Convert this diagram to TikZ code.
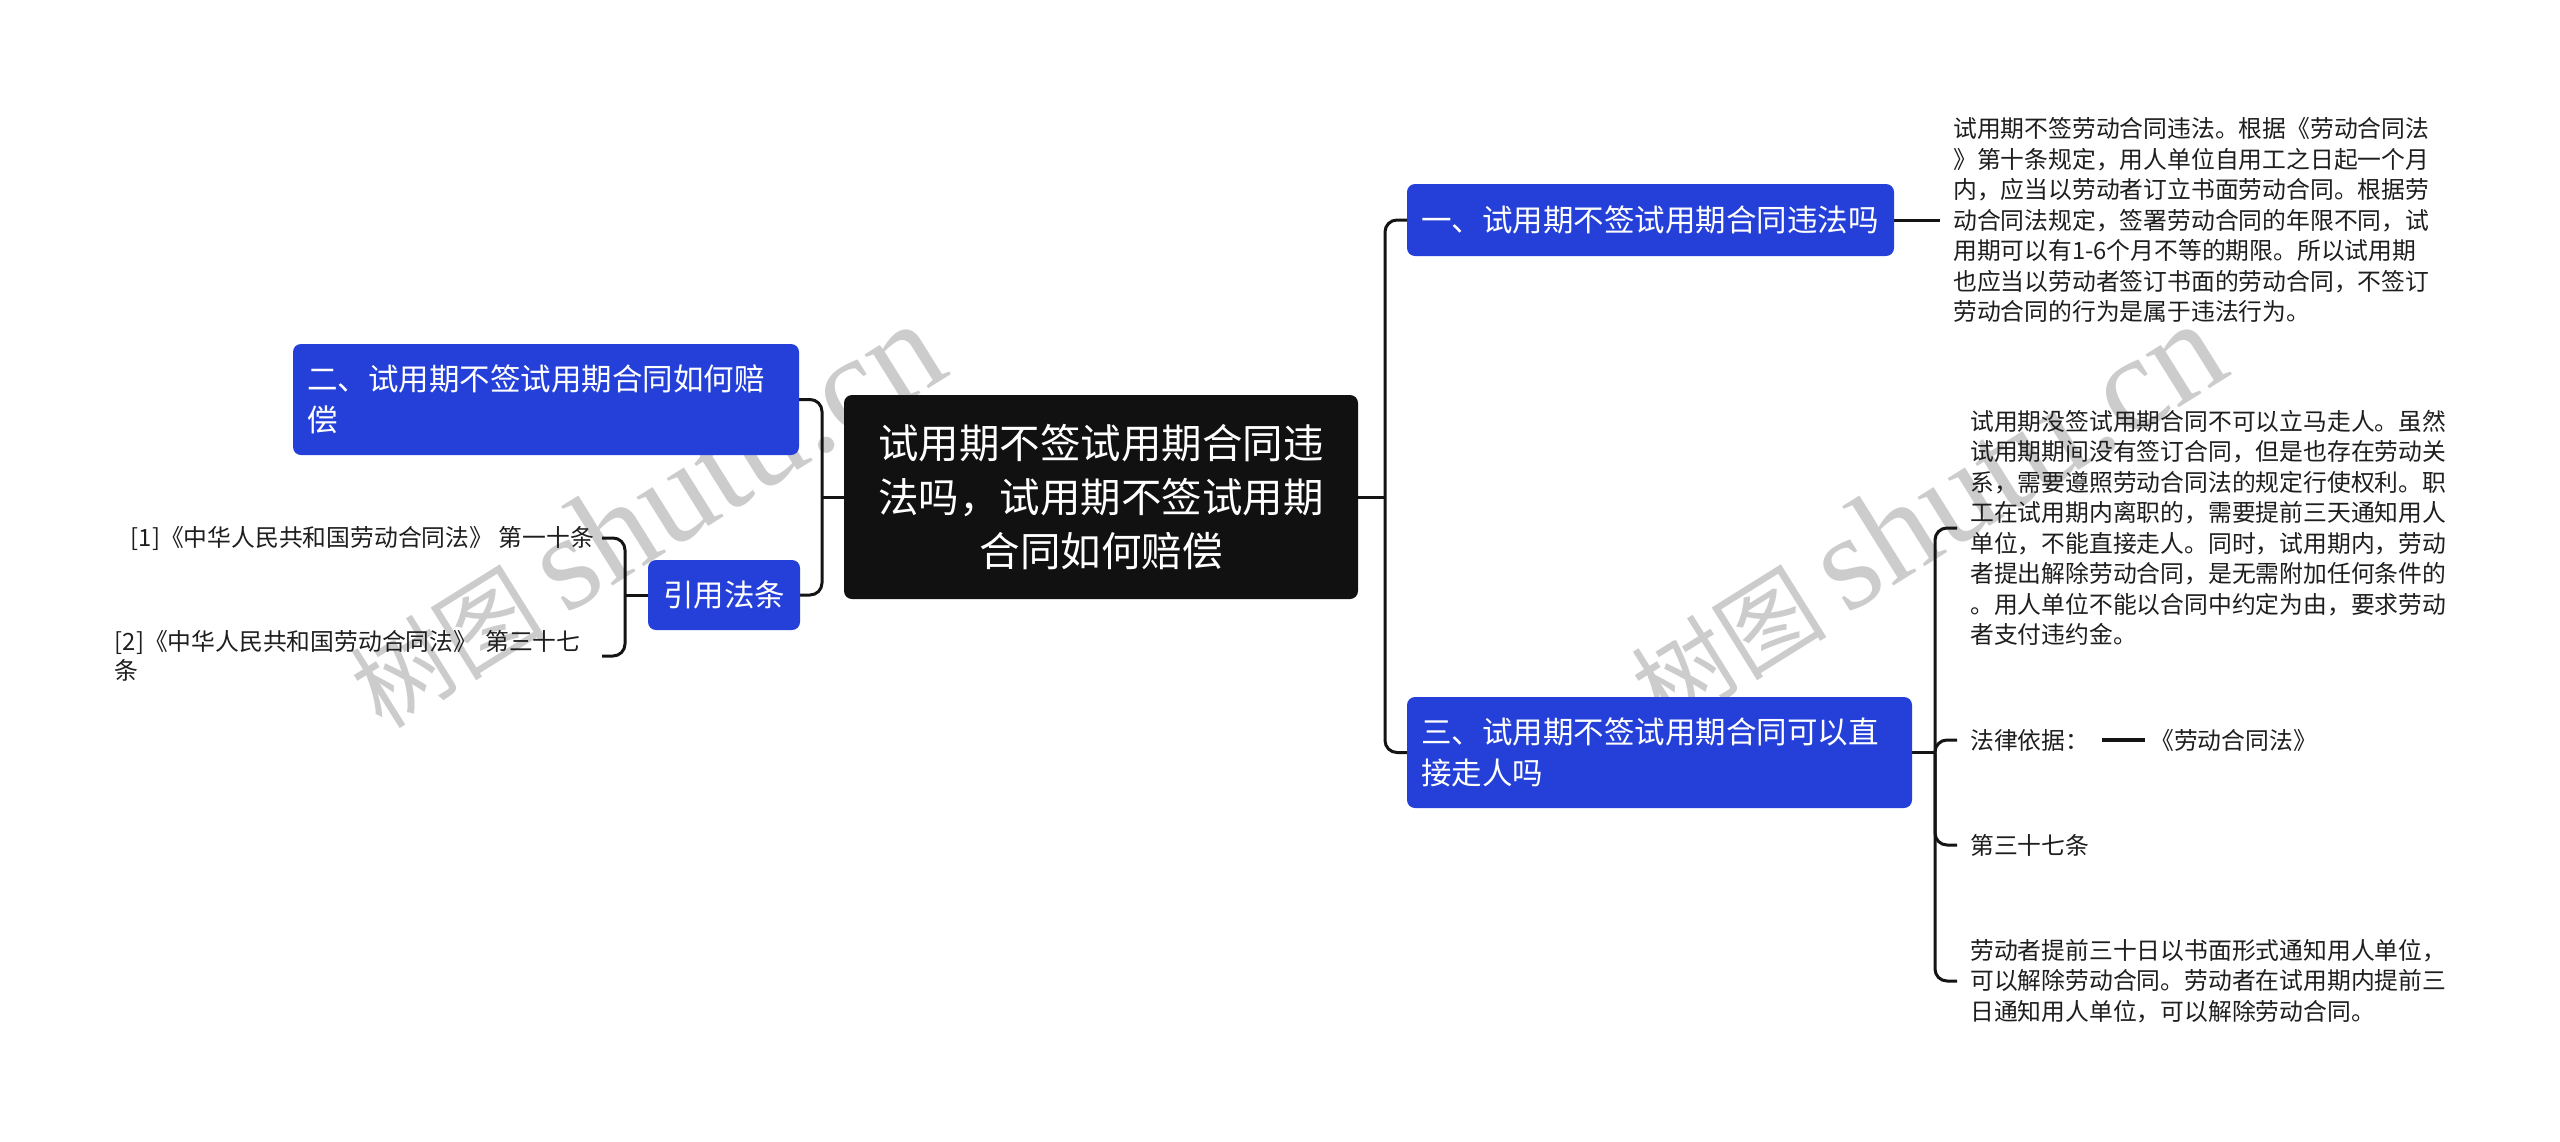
\documentclass[tikz,border=0pt]{standalone}
\usepackage{fontspec}
\setmainfont{Noto Sans CJK SC}
\newfontfamily\wmlatin{Liberation Serif}
\usetikzlibrary{calc}
\pgfdeclarelayer{wm}
\pgfdeclarelayer{bg}
\pgfsetlayers{wm,bg,main}
\definecolor{nodeblue}{RGB}{36,64,216}
\definecolor{rootblack}{RGB}{17,17,17}
\definecolor{linecol}{RGB}{20,20,20}
\definecolor{wmgray}{RGB}{204,204,204}
\definecolor{txtcol}{RGB}{30,30,30}
\tikzset{
  conn/.style={draw=linecol, line width=3pt},
  branch/.style={conn, rounded corners=12pt},
  bluebox/.style={fill=nodeblue, rounded corners=8pt, text=white, inner sep=0pt, font=\fontsize{30.5}{41}\selectfont, align=left},
  rootbox/.style={fill=rootblack, rounded corners=8pt, text=white, inner sep=0pt, font=\fontsize{40.5}{54}\selectfont, align=center},
  plain/.style={inner xsep=13pt, inner ysep=3pt, font=\fontsize{23.8}{30.5}\selectfont, align=left, text=txtcol},
  cite/.style={inner xsep=8pt, inner ysep=3pt, font=\fontsize{23.8}{29}\selectfont, align=left, text=txtcol},
  wmark/.style={rotate=32, text=wmgray, inner sep=0pt},
}
\begin{document}
\begin{tikzpicture}[x=1pt,y=-1pt]
\useasboundingbox (0,0) rectangle (2560,1141);

% background and watermarks
\begin{pgfonlayer}{wm}
\fill[white] (0,0) rectangle (2560,1141);
\node[wmark] (wm1) at (645,515) {\fontsize{98}{98}\selectfont 树图\hspace{20pt}{\wmlatin\fontsize{136}{136}\selectfont shutu.cn}};
\node[wmark] (wm2) at (1926,515) {\fontsize{98}{98}\selectfont 树图\hspace{20pt}{\wmlatin\fontsize{136}{136}\selectfont shutu.cn}};
\end{pgfonlayer}

% nodes
\node[rootbox, minimum width=514pt, minimum height=204pt, text width=470pt] (root) at (1101,497) {试用期不签试用期合同违\\法吗，试用期不签试用期\\合同如何赔偿};

\node[bluebox, minimum width=487pt, minimum height=72pt, text width=459pt] (n1) at (1650.5,220) {一、试用期不签试用期合同违法吗};
\node[bluebox, minimum width=505pt, minimum height=111pt, text width=477pt] (n3) at (1659.5,752.5) {三、试用期不签试用期合同可以直\\接走人吗};
\node[bluebox, minimum width=506pt, minimum height=111pt, text width=478pt] (n2) at (546,399.5) {二、试用期不签试用期合同如何赔\\偿};
\node[bluebox, minimum width=152pt, minimum height=70pt, align=center] (ref) at (724,595) {引用法条};

\node[plain, anchor=west, text width=480pt] (t1) at (1940,220) {试用期不签劳动合同违法。根据《劳动合同法\\》第十条规定，用人单位自用工之日起一个月\\内，应当以劳动者订立书面劳动合同。根据劳\\动合同法规定，签署劳动合同的年限不同，试\\用期可以有1-6个月不等的期限。所以试用期\\也应当以劳动者签订书面的劳动合同，不签订\\劳动合同的行为是属于违法行为。};

\node[plain, anchor=west, text width=480pt] (t2) at (1957,528) {试用期没签试用期合同不可以立马走人。虽然\\试用期期间没有签订合同，但是也存在劳动关\\系，需要遵照劳动合同法的规定行使权利。职\\工在试用期内离职的，需要提前三天通知用人\\单位，不能直接走人。同时，试用期内，劳动\\者提出解除劳动合同，是无需附加任何条件的\\。用人单位不能以合同中约定为由，要求劳动\\者支付违约金。};

\node[plain, anchor=west] (law) at (1957,740) {法律依据：};
\node[plain, anchor=west, inner xsep=5pt] (lawref) at (2145,740) {《劳动合同法》};
\node[plain, anchor=west] (art) at (1957,845) {第三十七条};
\node[plain, anchor=west, text width=480pt] (t3) at (1957,981) {劳动者提前三十日以书面形式通知用人单位，\\可以解除劳动合同。劳动者在试用期内提前三\\日通知用人单位，可以解除劳动合同。};

\node[cite, anchor=east] (c1) at (602,538) {[1]《中华人民共和国劳动合同法》 第一十条};
\node[cite, anchor=east, text width=479pt] (c2) at (602,656) {[2]《中华人民共和国劳动合同法》 第三十七\\条};

% connectors
\begin{pgfonlayer}{bg}
\coordinate (lb) at (822,497);
\draw[conn] (root.west) -- (lb);
\draw[branch] (lb) -- (lb |- n2.east) -- (n2.east);
\draw[branch] (lb) -- (lb |- ref.east) -- (ref.east);

\coordinate (cb) at (625,595);
\draw[conn] (ref.west) -- (cb);
\draw[branch] (cb) -- (cb |- c1.east) -- (c1.east);
\draw[branch] (cb) -- (cb |- c2.east) -- (c2.east);

\coordinate (rb) at (1385,497);
\draw[conn] (root.east) -- (rb);
\draw[branch] (rb) -- (rb |- n1.west) -- (n1.west);
\draw[branch] (rb) -- (rb |- n3.west) -- (n3.west);
\draw[conn] (n1.east) -- (t1.west);

\coordinate (rb2) at (1935,752.5);
\draw[conn] (n3.east) -- (rb2);
\draw[branch] (rb2) -- (rb2 |- t2.west) -- (t2.west);
\draw[branch] (rb2) -- (rb2 |- law.west) -- (law.west);
\draw[branch] (rb2) -- (rb2 |- art.west) -- (art.west);
\draw[branch] (rb2) -- (rb2 |- t3.west) -- (t3.west);
\draw[conn, line width=3.5pt] (law.east) -- (lawref.west);
\end{pgfonlayer}
\end{tikzpicture}
\end{document}
